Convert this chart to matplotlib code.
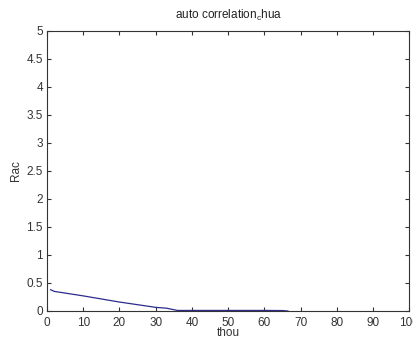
import matplotlib
matplotlib.use('Agg')
import matplotlib.pyplot as plt

plt.rcParams['font.family'] = ['Liberation Sans', 'DejaVu Sans']
plt.rcParams['mathtext.default'] = 'regular'

# lag vs autocorrelation
lag = [1, 2, 4, 10, 20, 30, 33, 36, 40, 50, 60, 65, 66.5]
rac = [0.38, 0.35, 0.33, 0.27, 0.16, 0.065, 0.05, 0.01, 0.01, 0.01, 0.01, 0.008, 0.0]
xticks = [0, 10, 20, 30, 40, 50, 60, 70, 80, 90, 100]
yticks = [0, 0.5, 1, 1.5, 2, 2.5, 3, 3.5, 4, 4.5, 5]

fig = plt.figure(figsize=(4.14, 3.38), dpi=100)
ax = fig.add_axes([0.1135, 0.0799, 0.875, 0.8284])

ax.plot(lag, rac, color='#2b2b8c', linewidth=0.9)

ax.set_xlim(0, 100)
ax.set_ylim(0, 5)
ax.set_xticks(xticks)
ax.set_yticks(yticks)
ax.set_yticklabels(['0', '0.5', '1', '1.5', '2', '2.5', '3', '3.5', '4', '4.5', '5'])
ax.tick_params(direction='in', top=True, right=True, labelsize=8.5, length=3,
               colors='#333333')
ax.tick_params(axis='x', pad=4)
ax.tick_params(axis='y', pad=3)
for s in ax.spines.values():
    s.set_color('#333333')
    s.set_linewidth(0.8)

ax.set_xlabel('thou', fontsize=8.5, labelpad=-1, color='#333333')
ax.set_ylabel('Rac', fontsize=8.5, labelpad=3, color='#333333')
ax.set_title('auto correlation$_c$hua', fontsize=8.5, pad=9, color='#222222')

fig.savefig('out.png', dpi=100)
